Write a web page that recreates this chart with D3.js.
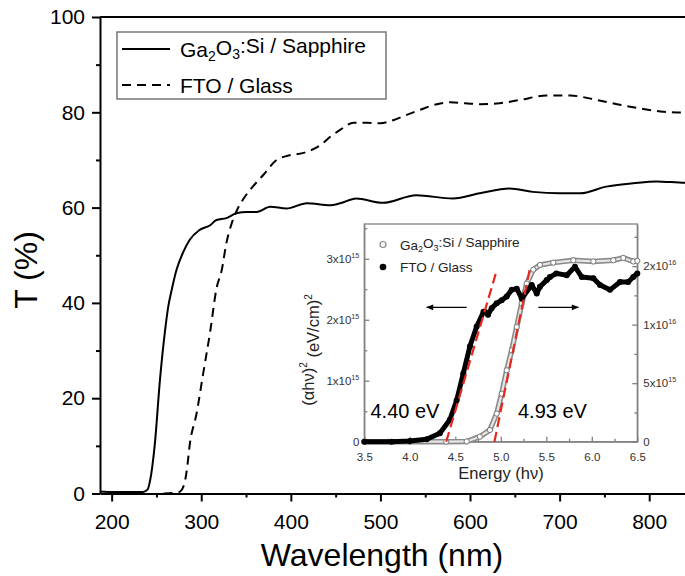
<!DOCTYPE html>
<html>
<head>
<meta charset="utf-8">
<script src="https://cdn.jsdelivr.net/npm/d3@7"></script>
<style>
  body { margin: 0; background: #fff; }
  svg { font-family: "Liberation Sans", Arial, sans-serif; }
</style>
</head>
<body>
<div id="chart"></div>
<script>
// main plot: transmittance (%) vs wavelength (nm)
var wlGa = [187, 200, 220, 235, 240, 243, 248, 254, 259.5, 263, 267, 272.5, 280, 287, 298, 310, 317, 328, 339, 351, 362, 377, 395, 418, 444, 455, 473, 503, 540, 581, 611, 644, 670, 700, 723, 752, 782, 808, 840, 850];
var tGa = [0.4, 0.3, 0.3, 0.3, 0.8, 2.8, 10, 24, 34, 39, 42.7, 47, 50.7, 53.2, 55.3, 56.3, 57.4, 57.8, 58.8, 59.1, 59.1, 60.2, 59.8, 60.9, 60.5, 60.9, 61.9, 61.0, 62.6, 61.9, 63.0, 64.0, 63.3, 63.0, 63.0, 64.4, 65.1, 65.5, 65.2, 65.2];

var wlFto = [258, 275, 280, 284, 287, 295, 302, 310, 317, 323, 328, 334, 340, 347, 358, 370, 384, 395, 418, 432, 445, 455, 470, 485, 500, 515, 530, 544, 563, 578, 595, 611, 633, 656, 685, 712, 741, 764, 790, 816, 840, 850];
var tFto = [0, 0.3, 1.4, 5, 10, 17, 25, 34, 43, 47, 52.5, 56.7, 59.5, 61.8, 64.5, 67, 70, 70.8, 71.7, 73, 75, 76.3, 77.8, 77.8, 77.7, 78.4, 79.5, 80.5, 81.7, 82.1, 81.9, 81.7, 81.9, 82.6, 83.5, 83.5, 82.6, 81.7, 80.8, 80.1, 79.9, 79.8];

var xTicks = [200, 300, 400, 500, 600, 700, 800];
var xMinor = [250, 350, 450, 550, 650, 750, 850];
var yTicks = [0, 20, 40, 60, 80, 100];
var yMinor = [10, 30, 50, 70, 90];

// inset: (alpha h nu)^2 vs energy
var eFto = [3.5, 3.8, 4.0, 4.186, 4.33, 4.44, 4.515, 4.588, 4.66, 4.735, 4.81, 4.826, 4.86, 4.9, 4.955, 5.01, 5.065, 5.12, 5.175, 5.23, 5.34, 5.395, 5.43, 5.505, 5.54, 5.61, 5.725, 5.815, 5.89, 6.017, 6.09, 6.2, 6.31, 6.4, 6.456, 6.5];
var aFto = [0, 0, 0.01e15, 0.04e15, 0.14e15, 0.36e15, 0.68e15, 1.12e15, 1.56e15, 1.89e15, 2.13e15, 2.13e15, 2.08e15, 2.19e15, 2.27e15, 2.32e15, 2.38e15, 2.49e15, 2.51e15, 2.35e15, 2.57e15, 2.43e15, 2.54e15, 2.65e15, 2.7e15, 2.76e15, 2.73e15, 2.87e15, 2.7e15, 2.68e15, 2.57e15, 2.49e15, 2.62e15, 2.62e15, 2.7e15, 2.76e15];

var eGa = [3.5, 4.0, 4.4, 4.625, 4.77, 4.88, 4.955, 5.01, 5.065, 5.12, 5.175, 5.23, 5.285, 5.357, 5.43, 5.577, 5.797, 6.017, 6.237, 6.346, 6.456, 6.5];
var aGa = [0, 0, 0, 0.002e16, 0.043e16, 0.1e16, 0.24e16, 0.41e16, 0.61e16, 0.78e16, 0.98e16, 1.18e16, 1.35e16, 1.47e16, 1.51e16, 1.53e16, 1.55e16, 1.54e16, 1.55e16, 1.57e16, 1.54e16, 1.545e16];

// linear fits (red dashed)
var fitFtoE = [4.40, 4.955], fitFtoA = [0, 2.81e15];
var fitGaE = [4.93, 5.32], fitGaA = [0, 1.48e16];

var exTicks = [3.5, 4.0, 4.5, 5.0, 5.5, 6.0, 6.5];
var exMinor = [3.75, 4.25, 4.75, 5.25, 5.75, 6.25];
var leftTicks = [0, 1e15, 2e15, 3e15];
var leftMinor = [0.5e15, 1.5e15, 2.5e15, 3.5e15];
var rightTicks = [0, 5e15, 1e16, 1.5e16];
var rightMinor = [2.5e15, 7.5e15, 1.25e16, 1.75e16];

var svg = d3.select("#chart").append("svg")
    .attr("width", 685)
    .attr("height", 576);

var x = d3.scaleLinear().domain([187, 850]).range([100, 694]);
var y = d3.scaleLinear().domain([0, 100]).range([493.5, 17]);

function styleAxis(g, w) {
    g.select(".domain").attr("stroke", "#000").attr("stroke-width", w);
    g.selectAll(".tick line").attr("stroke", "#000").attr("stroke-width", w);
    g.selectAll(".tick text").attr("fill", "#000");
}

// top border
svg.append("line")
    .attr("x1", 100).attr("x2", 694)
    .attr("y1", y(100)).attr("y2", y(100))
    .attr("stroke", "#000").attr("stroke-width", 2);

var gx = svg.append("g")
    .attr("transform", "translate(0," + y(0) + ")")
    .call(d3.axisBottom(x).tickValues(xTicks).tickSize(8).tickSizeOuter(0).tickPadding(13))
    .attr("font-size", 21).attr("font-family", null);
styleAxis(gx, 2);
var gxm = svg.append("g")
    .attr("transform", "translate(0," + y(0) + ")")
    .call(d3.axisBottom(x).tickValues(xMinor).tickSize(4).tickFormat(""));
gxm.select(".domain").remove();
styleAxis(gxm, 2);

var gy = svg.append("g")
    .attr("transform", "translate(100,0)")
    .call(d3.axisLeft(y).tickValues(yTicks).tickSize(8).tickSizeOuter(0).tickPadding(7))
    .attr("font-size", 21).attr("font-family", null);
styleAxis(gy, 2);
var gym = svg.append("g")
    .attr("transform", "translate(100,0)")
    .call(d3.axisLeft(y).tickValues(yMinor).tickSize(4).tickFormat(""));
gym.select(".domain").remove();
styleAxis(gym, 2);

// axis titles
svg.append("text")
    .attr("x", 382).attr("y", 566)
    .attr("text-anchor", "middle")
    .attr("font-size", 32)
    .text("Wavelength (nm)");
svg.append("text")
    .attr("transform", "translate(37,270) rotate(-90)")
    .attr("text-anchor", "middle")
    .attr("font-size", 32)
    .text("T (%)");

// curves
var line = d3.line()
    .x(function(d) { return x(d[0]); })
    .y(function(d) { return y(d[1]); })
    .curve(d3.curveMonotoneX);

svg.append("path")
    .datum(d3.zip(wlGa, tGa))
    .attr("fill", "none").attr("stroke", "#000").attr("stroke-width", 2)
    .attr("d", line);
svg.append("path")
    .datum(d3.zip(wlFto, tFto))
    .attr("fill", "none").attr("stroke", "#000").attr("stroke-width", 2)
    .attr("stroke-dasharray", "9,6")
    .attr("d", line);

// main legend
var lg = svg.append("g");
lg.append("rect")
    .attr("x", 117).attr("y", 32).attr("width", 269).attr("height", 67)
    .attr("fill", "#fff").attr("stroke", "#777").attr("stroke-width", 1.5);
lg.append("line").attr("x1", 122).attr("x2", 170).attr("y1", 49).attr("y2", 49)
    .attr("stroke", "#000").attr("stroke-width", 2);
lg.append("line").attr("x1", 122).attr("x2", 170).attr("y1", 85).attr("y2", 85)
    .attr("stroke", "#000").attr("stroke-width", 2).attr("stroke-dasharray", "9,6");

function gaLabel(t, sub) {
    t.append("tspan").text("Ga");
    t.append("tspan").attr("font-size", sub).attr("dy", "0.3em").text("2");
    t.append("tspan").attr("dy", "-0.3em").text("O");
    t.append("tspan").attr("font-size", sub).attr("dy", "0.3em").text("3");
    t.append("tspan").attr("dy", "-0.3em").text(":Si / Sapphire");
}
var t1 = lg.append("text").attr("x", 180).attr("y", 57).attr("font-size", 21);
gaLabel(t1, 14);
lg.append("text").attr("x", 180).attr("y", 93).attr("font-size", 21).text("FTO / Glass");

// ---------- inset ----------
var ex = d3.scaleLinear().domain([3.5, 6.5]).range([364.3, 637.3]);
var ey = d3.scaleLinear().domain([0, 3.57e15]).range([441.7, 224]);
var ey2 = d3.scaleLinear().domain([0, 1.86e16]).range([441.7, 224]);
var grey = "#808080";

var ins = svg.append("g");
ins.append("rect")
    .attr("x", 364.3).attr("y", 224).attr("width", 273).attr("height", 217.7)
    .attr("fill", "#fff").attr("stroke", grey).attr("stroke-width", 1.3);

function styleInset(g) {
    g.select(".domain").attr("stroke", grey).attr("stroke-width", 1.3);
    g.selectAll(".tick line").attr("stroke", grey).attr("stroke-width", 1.3);
    g.selectAll(".tick text").attr("fill", "#333");
}

// scientific labels like 3x10^15
function sciLabels(g) {
    g.selectAll(".tick text").each(function(d) {
        var t = d3.select(this);
        t.text("");
        if (d === 0) { t.text("0"); return; }
        var p = Math.floor(Math.log10(d));
        var m = Math.round(d / Math.pow(10, p));
        t.append("tspan").text(m + "x10");
        t.append("tspan").attr("font-size", "0.62em").attr("dy", "-0.75em").text(p);
    });
}

var ix = ins.append("g")
    .attr("transform", "translate(0,441.7)")
    .call(d3.axisBottom(ex).tickValues(exTicks).tickSize(-5).tickSizeOuter(0).tickPadding(11).tickFormat(d3.format(".1f")))
    .attr("font-size", 11.5).attr("font-family", null);
styleInset(ix);
var ixm = ins.append("g")
    .attr("transform", "translate(0,441.7)")
    .call(d3.axisBottom(ex).tickValues(exMinor).tickSize(-3).tickFormat(""));
ixm.select(".domain").remove();
styleInset(ixm);

var iy = ins.append("g")
    .attr("transform", "translate(364.3,0)")
    .call(d3.axisLeft(ey).tickValues(leftTicks).tickSize(-5).tickSizeOuter(0).tickPadding(5))
    .attr("font-size", 11.5).attr("font-family", null);
sciLabels(iy);
styleInset(iy);
var iym = ins.append("g")
    .attr("transform", "translate(364.3,0)")
    .call(d3.axisLeft(ey).tickValues(leftMinor).tickSize(-3).tickFormat(""));
iym.select(".domain").remove();
styleInset(iym);

var iy2 = ins.append("g")
    .attr("transform", "translate(637.3,0)")
    .call(d3.axisRight(ey2).tickValues(rightTicks).tickSize(-5).tickSizeOuter(0).tickPadding(6))
    .attr("font-size", 11.5).attr("font-family", null);
sciLabels(iy2);
styleInset(iy2);
var iy2m = ins.append("g")
    .attr("transform", "translate(637.3,0)")
    .call(d3.axisRight(ey2).tickValues(rightMinor).tickSize(-3).tickFormat(""));
iy2m.select(".domain").remove();
styleInset(iy2m);

ins.append("text")
    .attr("x", 501).attr("y", 479)
    .attr("text-anchor", "middle").attr("font-size", 16.5).attr("fill", "#222")
    .text("Energy (h\u03bd)");

var yl = ins.append("text")
    .attr("transform", "translate(314,350) rotate(-90)")
    .attr("text-anchor", "middle").attr("font-size", 16.5).attr("fill", "#222");
yl.append("tspan").text("(\u03b1h\u03bd)");
yl.append("tspan").attr("font-size", 10).attr("dy", "-0.7em").text("2");
yl.append("tspan").attr("dy", "0.7em").text(" (eV/cm)");
yl.append("tspan").attr("font-size", 10).attr("dy", "-0.7em").text("2");

// Ga2O3 on right axis: grey open circles
var lineGa = d3.line()
    .x(function(d) { return ex(d[0]); })
    .y(function(d) { return ey2(d[1]); });
var lineFto = d3.line()
    .x(function(d) { return ex(d[0]); })
    .y(function(d) { return ey(d[1]); });

var gaData = d3.zip(eGa, aGa);
ins.append("path").datum(gaData)
    .attr("fill", "none").attr("stroke", "#8a8a8a").attr("stroke-width", 5.5)
    .attr("stroke-linejoin", "round").attr("d", lineGa);
ins.append("path").datum(gaData)
    .attr("fill", "none").attr("stroke", "#e6e6e6").attr("stroke-width", 2.2)
    .attr("stroke-linejoin", "round").attr("d", lineGa);
ins.selectAll(".gadot").data(gaData).enter().append("circle")
    .attr("class", "gadot")
    .attr("cx", function(d) { return ex(d[0]); })
    .attr("cy", function(d) { return ey2(d[1]); })
    .attr("r", 2.6).attr("fill", "#fff").attr("stroke", "#777").attr("stroke-width", 1);

// FTO on left axis: black filled dots
var ftoData = d3.zip(eFto, aFto);
ins.append("path").datum(ftoData)
    .attr("fill", "none").attr("stroke", "#000").attr("stroke-width", 5)
    .attr("stroke-linejoin", "round").attr("d", lineFto);
ins.selectAll(".ftodot").data(ftoData).enter().append("circle")
    .attr("class", "ftodot")
    .attr("cx", function(d) { return ex(d[0]); })
    .attr("cy", function(d) { return ey(d[1]); })
    .attr("r", 3).attr("fill", "#000");

// red fits
ins.append("path").datum(d3.zip(fitFtoE, fitFtoA))
    .attr("fill", "none").attr("stroke", "#e8281e").attr("stroke-width", 2.2)
    .attr("stroke-dasharray", "10,5").attr("d", lineFto);
ins.append("path").datum(d3.zip(fitGaE, fitGaA))
    .attr("fill", "none").attr("stroke", "#e8281e").attr("stroke-width", 2.2)
    .attr("stroke-dasharray", "10,5").attr("d", lineGa);

// arrows
var defs = svg.append("defs");
defs.append("marker")
    .attr("id", "arr").attr("viewBox", "0 0 10 10")
    .attr("refX", 9).attr("refY", 5)
    .attr("markerWidth", 8).attr("markerHeight", 6)
    .attr("orient", "auto-start-reverse")
    .append("path").attr("d", "M0,1 L10,5 L0,9 Z").attr("fill", "#000");
ins.append("line").attr("x1", 466.7).attr("x2", 426.7).attr("y1", 307.3).attr("y2", 307.3)
    .attr("stroke", "#000").attr("stroke-width", 1.2).attr("marker-end", "url(#arr)");
ins.append("line").attr("x1", 538.3).attr("x2", 578.3).attr("y1", 307.3).attr("y2", 307.3)
    .attr("stroke", "#000").attr("stroke-width", 1.2).attr("marker-end", "url(#arr)");

// gap labels
ins.append("text").attr("x", 370.5).attr("y", 417.5).attr("font-size", 20).text("4.40 eV");
ins.append("text").attr("x", 518).attr("y", 418).attr("font-size", 20).text("4.93 eV");

// inset legend
ins.append("circle").attr("cx", 383).attr("cy", 244.5).attr("r", 3)
    .attr("fill", "#fff").attr("stroke", "#888").attr("stroke-width", 1.2);
ins.append("circle").attr("cx", 383).attr("cy", 267).attr("r", 3.3).attr("fill", "#000");
var t2 = ins.append("text").attr("x", 400).attr("y", 249.5).attr("font-size", 13.5).attr("fill", "#222");
gaLabel(t2, 9);
ins.append("text").attr("x", 400).attr("y", 272).attr("font-size", 13.5).attr("fill", "#222").text("FTO / Glass");
</script>
</body>
</html>
